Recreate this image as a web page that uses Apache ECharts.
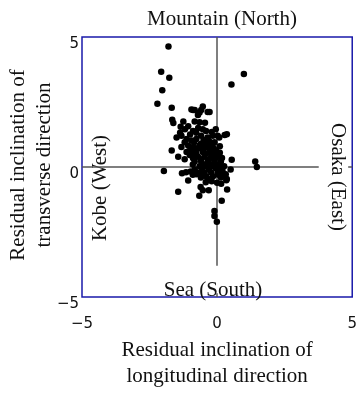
<!DOCTYPE html>
<html>
<head>
<meta charset="utf-8">
<script src="https://cdn.jsdelivr.net/npm/echarts@6/dist/echarts.min.js"></script>
<style>
  html, body { margin: 0; padding: 0; background: #fff; }
  #chart { width: 360px; height: 394px; }
</style>
</head>
<body>
<div id="chart"></div>
<script>
// residual inclination, longitudinal (x) and transverse (y)
const longitudinal = [
  -1.80, -2.07, -1.77, -2.03, -2.21, 0.99, 0.53, -0.53, -1.68, -0.95,
  -1.66, -1.62, -1.25, -1.07, -1.19, -1.37, -0.89, -1.50, -1.32, -1.13,
  -0.95, -0.77, -1.07, -1.32, -0.89, -0.71, -1.68, -1.13, -0.83, -0.59,
  -0.65, -0.35, -0.83, -0.71, -0.83, -0.65, -0.53, -0.41, -0.77, -0.59,
  -0.35, -0.16, 0.02, 0.08, 0.28, -0.10, -0.41, -0.65, -0.22, -0.77,
  -0.53, -0.28, -0.04, -0.41, -0.16, -1.44, -1.01, -0.89, -0.77, -1.97,
  -1.30, -1.15, -0.98, -1.07, -1.44, -0.83, -0.77, 0.54, 0.50, 0.32,
  0.14, 0.34, 0.37, 0.15, -0.42, -0.61, -0.53, -0.31, -0.66, 0.17,
  -0.53, -0.28, -0.10, -0.71, -0.47, -0.22, 0.02, -0.83, -0.59, -0.35,
  -0.10, 0.14, -0.65, -0.41, -0.16, 0.08, 0.26, -0.71, -0.47, -0.22,
  0.02, 0.20, -0.10, -0.10, -0.01, 1.41, 1.47, 0.36, -0.60, -0.30,
  -0.05, -0.50, -0.25, 0.00, -0.55, -0.30, -0.05, -0.40, -0.15, 0.05,
  -0.90, -0.95, -0.60, -0.30, -0.50, -0.85, -1.00, -0.45, -0.15, 0.10,
  -0.20, -0.05, 0.10, 0.18, -0.35, -0.60, -0.90, 0.25, -1.20, -1.00,
  -0.70, -0.45, -1.35, -1.20, -0.55, 0.10, -0.20, 0.00, 0.36, -0.28,
  -0.89
];
const transverse = [
  4.63, 3.66, 3.43, 2.95, 2.43, 3.58, 3.17, 2.33, 2.28, 2.21,
  1.82, 1.69, 1.75, 1.57, 1.45, 1.32, 1.39, 1.14, 1.20, 1.08,
  1.02, 1.08, 0.83, 0.77, 0.77, 0.71, 0.64, 0.58, 0.58, 2.19,
  2.10, 2.12, 2.19, 2.00, 1.75, 1.72, 1.45, 1.39, 1.32, 1.20,
  1.14, 1.20, 1.20, 1.14, 1.23, 0.95, 0.89, 0.83, 0.83, 0.71,
  0.65, 0.71, 0.65, 0.52, 0.52, 0.40, 0.46, 0.34, 0.52, -0.15,
  -0.24, -0.20, -0.17, -0.52, -0.95, -0.09, -0.28, 0.28, -0.09, -0.28,
  -0.40, -0.51, -0.86, -0.64, -0.58, -0.77, -0.89, -0.89, -1.10, -1.30,
  0.58, 0.58, 0.58, 0.40, 0.40, 0.40, 0.40, 0.21, 0.21, 0.21,
  0.21, 0.21, 0.03, 0.03, 0.03, 0.03, 0.03, -0.21, -0.21, -0.21,
  -0.21, -0.15, -1.69, -1.88, -2.10, 0.21, 0.00, 1.26, 0.30, 0.30,
  0.35, 0.10, 0.10, 0.10, -0.10, -0.10, -0.05, -0.35, -0.35, -0.30,
  0.10, 0.45, 0.90, 1.00, 1.05, 0.95, 0.65, 0.75, 0.75, 0.80,
  1.35, 1.45, 0.55, 0.35, -0.45, -0.40, -0.30, -0.35, 0.30, 1.25,
  1.50, 1.70, 1.55, 0.95, -0.25, -0.10, -0.55, -0.60, -0.46, 2.12,
  2.19
];
const axisTicks = [-5, 0, 5];

const serif = "'Liberation Serif', 'Times New Roman', serif";
const boxBlue = '#1a1aaa';
const crossGrey = '#555';

const points = longitudinal.map((x, i) => [x, transverse[i]]);
const fmt = v => String(v).replace('-', '\u2212');

const chart = echarts.init(document.getElementById('chart'));
chart.setOption({
  animation: false,
  grid: {
    left: 82, right: 3, top: 37, bottom: 86,
    show: true, borderColor: boxBlue, borderWidth: 1.5, backgroundColor: 'transparent'
  },
  xAxis: {
    type: 'value',
    min: axisTicks[0], max: axisTicks[axisTicks.length - 1], interval: 5,
    axisLine: { show: false }, axisTick: { show: false }, splitLine: { show: false },
    axisLabel: {
      margin: 20, color: '#111', fontSize: 15, fontFamily: 'DejaVu Sans',
      formatter: fmt
    },
    name: 'Residual inclination of\nlongitudinal direction',
    nameLocation: 'middle', nameGap: 35,
    nameTextStyle: { fontFamily: serif, fontSize: 21, color: '#111', lineHeight: 26 }
  },
  yAxis: {
    type: 'value',
    min: axisTicks[0], max: axisTicks[axisTicks.length - 1], interval: 5,
    axisLine: { show: false }, axisTick: { show: false }, splitLine: { show: false },
    axisLabel: {
      margin: 3, color: '#111', fontSize: 15, fontFamily: 'DejaVu Sans',
      verticalAlign: 'top', formatter: fmt
    }
  },
  series: [{
    type: 'scatter',
    data: points,
    symbolSize: 6.5,
    itemStyle: { color: '#000', opacity: 1 },
    z: 3,
    markLine: {
      silent: true, symbol: 'none', z: 1,
      lineStyle: { color: crossGrey, width: 1.5, type: 'solid' },
      label: { show: false },
      data: [
        [{ coord: [-5, 0] }, { coord: [3.76, 0] }],
        [{ coord: [4.85, 0] }, { coord: [5, 0] }],
        [{ coord: [0, 5] }, { coord: [0, -3.79] }],
        [{ coord: [0, -4.85] }, { coord: [0, -5] }]
      ]
    }
  }],
  graphic: [
    { type: 'text', x: 222, y: 19,
      style: { text: 'Mountain (North)', font: '21px ' + serif, fill: '#111', align: 'center', verticalAlign: 'middle' } },
    { type: 'text', x: 213, y: 290,
      style: { text: 'Sea (South)', font: '21px ' + serif, fill: '#111', align: 'center', verticalAlign: 'middle' } },
    { type: 'text', x: 100, y: 188, rotation: Math.PI / 2,
      style: { text: 'Kobe (West)', font: '21px ' + serif, fill: '#111', align: 'center', verticalAlign: 'middle' } },
    { type: 'text', x: 338, y: 177, rotation: -Math.PI / 2,
      style: { text: 'Osaka (East)', font: '21px ' + serif, fill: '#111', align: 'center', verticalAlign: 'middle' } },
    { type: 'text', x: 31, y: 165, rotation: Math.PI / 2,
      style: { text: 'Residual inclination of\ntransverse direction', font: '21px ' + serif, fill: '#111',
        align: 'center', verticalAlign: 'middle', lineHeight: 26 } }
  ]
});
</script>
</body>
</html>
